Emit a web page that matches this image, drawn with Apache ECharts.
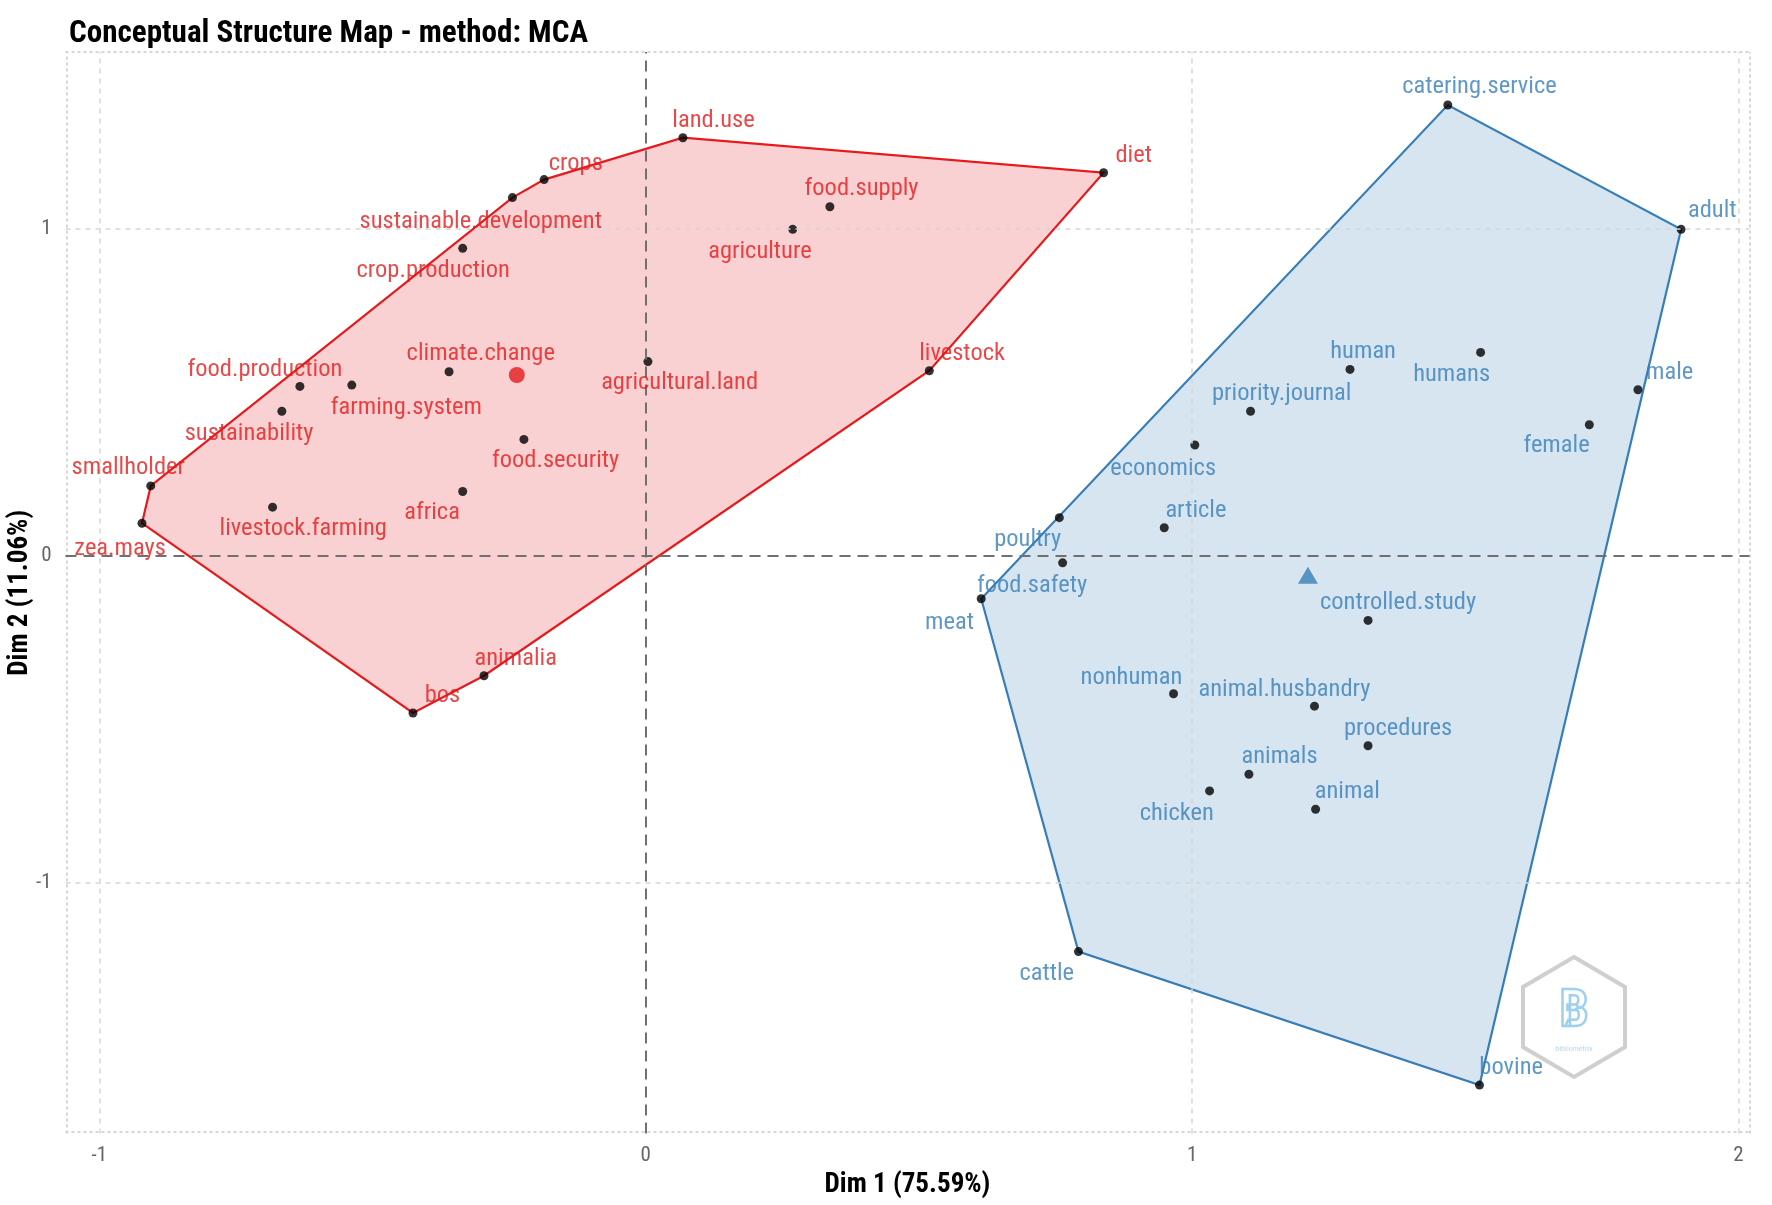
<!DOCTYPE html>
<html>
<head>
<meta charset="utf-8">
<script src="https://cdn.jsdelivr.net/npm/echarts@6/dist/echarts.min.js"></script>
<style>
html,body{margin:0;padding:0;background:#fff;}
#chart{width:1772px;height:1205px;}
</style>
</head>
<body>
<div id="chart"></div>
<script>
// ---------------- data ----------------
const titleText = 'Conceptual Structure Map - method: MCA';
const xAxisTitle = 'Dim 1 (75.59%)';
const yAxisTitle = 'Dim 2 (11.06%)';
const xTicks = [-1, 0, 1, 2];
const yTicks = [-1, 0, 1];
const xLimits = [-1.062, 2.02];
const yLimits = [-1.765, 1.540];

const redTerms = ['land.use','crops','sustainable.development','crop.production','diet','food.supply','agriculture','livestock','agricultural.land','climate.change','food.production','farming.system','sustainability','food.security','smallholder','africa','livestock.farming','zea.mays','animalia','bos'];
const redX = [0.068,-0.186,-0.244,-0.335,0.838,0.337,0.269,0.519,0.004,-0.360,-0.633,-0.538,-0.666,-0.223,-0.906,-0.335,-0.683,-0.922,-0.296,-0.426];
const redY = [1.278,1.150,1.095,0.940,1.171,1.067,0.998,0.566,0.594,0.563,0.518,0.522,0.442,0.356,0.214,0.197,0.149,0.100,-0.366,-0.480];
const redLabelX = [0.124,-0.128,-0.302,-0.389,0.893,0.395,0.209,0.579,0.062,-0.302,-0.697,-0.438,-0.726,-0.165,-0.947,-0.391,-0.627,-0.962,-0.238,-0.372];
const redLabelY = [1.330,1.199,1.022,0.870,1.223,1.123,0.929,0.618,0.528,0.618,0.570,0.453,0.373,0.290,0.269,0.131,0.083,0.021,-0.314,-0.428];

const blueTerms = ['catering.service','adult','human','humans','male','priority.journal','female','economics','article','poultry','food.safety','meat','controlled.study','nonhuman','animal.husbandry','procedures','animals','animal','chicken','cattle','bovine'];
const blueX = [1.468,1.895,1.289,1.528,1.816,1.107,1.727,1.005,0.949,0.757,0.763,0.614,1.322,0.966,1.224,1.322,1.104,1.226,1.032,0.792,1.526];
const blueY = [1.378,0.998,0.570,0.622,0.508,0.442,0.401,0.339,0.086,0.117,-0.021,-0.131,-0.197,-0.421,-0.459,-0.580,-0.667,-0.774,-0.718,-1.209,-1.617];
const blueLabelX = [1.526,1.952,1.313,1.475,1.874,1.164,1.667,0.947,1.007,0.699,0.707,0.556,1.377,0.889,1.169,1.377,1.160,1.284,0.972,0.734,1.584];
const blueLabelY = [1.434,1.054,0.625,0.553,0.560,0.494,0.335,0.266,0.138,0.048,-0.093,-0.204,-0.142,-0.373,-0.408,-0.528,-0.615,-0.722,-0.788,-1.278,-1.565];

const redCentroid = [-0.236, 0.553];
const blueCentroid = [1.212, -0.059];

// ---------------- styling ----------------
const RED = '#E41A1C', BLUE = '#377EB8';

function hasFont(name) {
  const ctx = document.createElement('canvas').getContext('2d');
  const s = 'sustainable.development WMmil 0123';
  ctx.font = '60px monospace'; const a = ctx.measureText(s).width;
  ctx.font = '60px "' + name + '", monospace'; const b = ctx.measureText(s).width;
  ctx.font = '60px serif'; const c = ctx.measureText(s).width;
  ctx.font = '60px "' + name + '", serif'; const d = ctx.measureText(s).width;
  return a !== b || c !== d;
}
const condensed = ['Liberation Sans Narrow', 'Arial Narrow', 'Roboto Condensed', 'DejaVu Sans Condensed'].find(hasFont);
const FAMILY = (condensed ? '"' + condensed + '", ' : '') + '"Liberation Sans", Arial, sans-serif';

function fitSize(text, targetW, weight) {
  const ctx = document.createElement('canvas').getContext('2d');
  ctx.font = (weight || 'normal') + ' 100px ' + FAMILY;
  const w = ctx.measureText(text).width;
  return Math.round(100 * targetW / w * 10) / 10;
}
const labelSize = fitSize('sustainable.development', 242, 'normal');
const titleSize = fitSize(titleText, 519, 'bold');
const axisTitleSize = fitSize(xAxisTitle, 166, 'bold');
const tickSize = Math.round(labelSize * 0.86);

// convex hull (monotone chain)
function convexHull(xs, ys) {
  const p = xs.map((x, i) => [x, ys[i]]).sort((a, b) => a[0] - b[0] || a[1] - b[1]);
  const cross = (o, a, b) => (a[0]-o[0])*(b[1]-o[1]) - (a[1]-o[1])*(b[0]-o[0]);
  const lower = [];
  for (const q of p) { while (lower.length >= 2 && cross(lower[lower.length-2], lower[lower.length-1], q) <= 0) lower.pop(); lower.push(q); }
  const upper = [];
  for (let i = p.length - 1; i >= 0; i--) { const q = p[i]; while (upper.length >= 2 && cross(upper[upper.length-2], upper[upper.length-1], q) <= 0) upper.pop(); upper.push(q); }
  upper.pop(); lower.pop();
  return lower.concat(upper);
}

function hullSeries(xs, ys, stroke, fill) {
  const h = convexHull(xs, ys);
  return {
    type: 'custom', coordinateSystem: 'cartesian2d', silent: true, z: 2, clip: false,
    data: [[0, 0]],
    renderItem: function (params, api) {
      return { type: 'polygon', shape: { points: h.map(q => api.coord(q)) },
        style: { fill: fill, stroke: stroke, lineWidth: 2.2 } };
    }
  };
}

function pointSeries(xs, ys) {
  return { type: 'scatter', symbol: 'circle', symbolSize: 9, z: 4, silent: true,
    itemStyle: { color: '#000' }, data: xs.map((x, i) => [x, ys[i]]) };
}

function labelSeries(terms, lx, ly, color) {
  return { type: 'scatter', symbol: 'circle', symbolSize: 1, z: 5, silent: true,
    itemStyle: { color: 'rgba(0,0,0,0)' },
    label: { show: true, position: 'inside', formatter: p => p.name, color: color,
      fontFamily: FAMILY, fontSize: labelSize },
    data: terms.map((t, i) => ({ name: t, value: [lx[i], ly[i]] })) };
}

const gridLineStyle = { color: '#d6d6d6', type: [5, 5], width: 1.5 };
const borderLineStyle = { color: '#d6d6d6', type: [3, 3], width: 2 };
const zeroLineStyle = { color: '#707070', type: [11, 7], width: 2 };

const guideSeries = {
  type: 'line', data: [], z: 1, silent: true,
  markLine: {
    silent: true, symbol: 'none', label: { show: false }, animation: false,
    data: []
      .concat(xTicks.filter(v => v !== 0).map(v => ({ xAxis: v, lineStyle: gridLineStyle })))
      .concat(yTicks.filter(v => v !== 0).map(v => ({ yAxis: v, lineStyle: gridLineStyle })))
      .concat(xLimits.map(v => ({ xAxis: v, lineStyle: borderLineStyle })))
      .concat(yLimits.map(v => ({ yAxis: v, lineStyle: borderLineStyle })))
      .concat([{ xAxis: 0, lineStyle: zeroLineStyle }, { yAxis: 0, lineStyle: zeroLineStyle }])
  }
};

const chart = echarts.init(document.getElementById('chart'), null, { renderer: 'canvas' });
chart.setOption({
  animation: false,
  backgroundColor: '#fff',
  title: { text: titleText, left: 64, top: 14,
    textStyle: { fontFamily: FAMILY, fontWeight: 'bold', fontSize: titleSize, color: '#000' } },
  grid: { left: 65.5, right: 22.6, top: 52, bottom: 71.5, containLabel: false, outerBoundsMode: 'none' },
  xAxis: {
    type: 'value', min: xLimits[0], max: xLimits[1],
    name: xAxisTitle, nameLocation: 'middle', nameGap: 36,
    nameTextStyle: { fontFamily: FAMILY, fontWeight: 'bold', fontSize: axisTitleSize, color: '#000' },
    axisLine: { show: false }, axisTick: { show: false }, splitLine: { show: false },
    axisLabel: { customValues: xTicks, color: '#666', fontFamily: FAMILY, fontSize: tickSize, margin: 12 }
  },
  yAxis: {
    type: 'value', min: yLimits[0], max: yLimits[1],
    name: yAxisTitle, nameLocation: 'middle', nameGap: 32, nameRotate: 90, nameMoveOverlap: false,
    nameTextStyle: { fontFamily: FAMILY, fontWeight: 'bold', fontSize: axisTitleSize, color: '#000' },
    axisLine: { show: false }, axisTick: { show: false }, splitLine: { show: false },
    axisLabel: { customValues: yTicks, color: '#666', fontFamily: FAMILY, fontSize: tickSize, margin: 14 }
  },
  graphic: [{
    type: 'group', x: 1574, y: 1017, z: 10, silent: true,
    children: [
      { type: 'polygon', shape: { points: [[0,-60],[51,-30],[51,30],[0,60],[-51,30],[-51,-30]] },
        style: { fill: 'rgba(255,255,255,0.35)', stroke: '#cfcfcf', lineWidth: 4 } },
      { type: 'text', x: 0, y: -4, style: { text: 'B', fontSize: 52, fontWeight: 'bold', fontFamily: FAMILY,
        fill: 'rgba(255,255,255,0)', stroke: '#9fd0ee', lineWidth: 2.5, align: 'center', verticalAlign: 'middle' } },
      { type: 'text', x: 0, y: 32, style: { text: 'bibliometrix', fontSize: 8, fontFamily: FAMILY,
        fill: '#b8d8ec', align: 'center', verticalAlign: 'middle' } }
    ]
  }],
  series: [
    guideSeries,
    hullSeries(redX, redY, RED, 'rgba(228,26,28,0.2)'),
    hullSeries(blueX, blueY, BLUE, 'rgba(55,126,184,0.2)'),
    pointSeries(redX, redY),
    pointSeries(blueX, blueY),
    labelSeries(redTerms, redLabelX, redLabelY, RED),
    labelSeries(blueTerms, blueLabelX, blueLabelY, BLUE),
    { type: 'scatter', symbol: 'circle', symbolSize: 16, z: 6, silent: true, itemStyle: { color: RED }, data: [redCentroid] },
    { type: 'scatter', symbol: 'triangle', symbolSize: [20, 17], z: 6, silent: true, itemStyle: { color: BLUE }, data: [blueCentroid] }
  ]
});
</script>
</body>
</html>
